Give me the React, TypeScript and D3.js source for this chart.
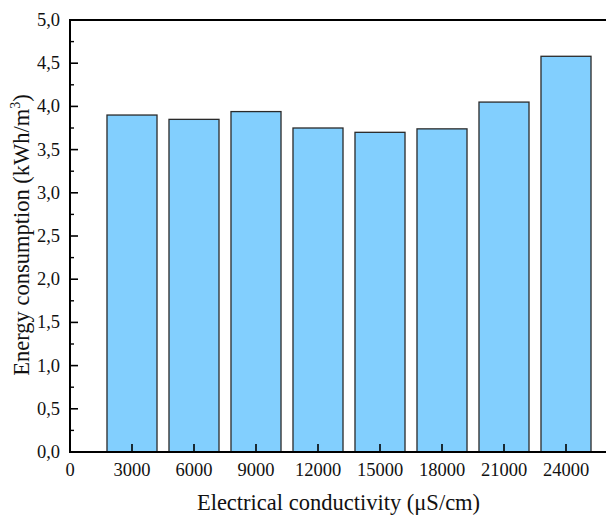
import React from "react";
import * as d3 from "d3";

const categories: number[] = [3000, 6000, 9000, 12000, 15000, 18000, 21000, 24000];
const energy: number[] = [3.9, 3.85, 3.94, 3.75, 3.7, 3.74, 4.05, 4.58];
const xTickValues: number[] = [0, 3000, 6000, 9000, 12000, 15000, 18000, 21000, 24000];
const yTickValues: number[] = [0, 0.5, 1, 1.5, 2, 2.5, 3, 3.5, 4, 4.5, 5];
const yMinorValues: number[] = [0.25, 0.75, 1.25, 1.75, 2.25, 2.75, 3.25, 3.75, 4.25, 4.75];
const barWidthUnits = 2420;

const W = 606;
const H = 515;
const left = 70;
const top = 20;
const bottom = 452;

export default function App() {
  const x = d3.scaleLinear().domain([0, 27000]).range([left, 628]);
  const y = d3.scaleLinear().domain([0, 5]).range([bottom, top]);
  const bw = x(barWidthUnits) - x(0);
  const font = "'Liberation Serif', 'Times New Roman', serif";
  const fmt = (v: number) => v.toFixed(1).replace(".", ",");

  return (
    <div style={{ position: "absolute", left: 0, top: 0 }}>
      <svg width={W} height={H} style={{ display: "block", background: "#fff" }}>
        {categories.map((c, i) => (
          <rect
            key={c}
            x={x(c) - bw / 2}
            y={y(energy[i])}
            width={bw}
            height={y(0) - y(energy[i])}
            fill="#82CFFE"
            stroke="#2a2a2a"
            strokeWidth={1.3}
          />
        ))}
        {/* y ticks */}
        {yTickValues.map((v) => (
          <g key={"y" + v}>
            <line x1={left} x2={left + 8} y1={y(v)} y2={y(v)} stroke="#000" strokeWidth={1.6} />
            <text
              x={left - 10}
              y={y(v) + 6}
              textAnchor="end"
              fontFamily={font}
              fontSize={18.5}
              fill="#111"
            >
              {fmt(v)}
            </text>
          </g>
        ))}
        {yMinorValues.map((v) => (
          <line key={"ym" + v} x1={left} x2={left + 4} y1={y(v)} y2={y(v)} stroke="#000" strokeWidth={1.4} />
        ))}
        {/* x ticks */}
        {xTickValues.map((v) => (
          <g key={"x" + v}>
            <line x1={x(v)} x2={x(v)} y1={bottom} y2={bottom - 8} stroke="#000" strokeWidth={1.6} />
            <text
              x={x(v)}
              y={476}
              textAnchor="middle"
              fontFamily={font}
              fontSize={18.5}
              fill="#111"
            >
              {v}
            </text>
          </g>
        ))}
        {/* frame */}
        <line x1={left} x2={W} y1={top} y2={top} stroke="#000" strokeWidth={2} />
        <line x1={left} x2={W} y1={bottom} y2={bottom} stroke="#000" strokeWidth={2} />
        <line x1={left} x2={left} y1={top - 1} y2={bottom + 1} stroke="#000" strokeWidth={2} />
        {/* axis titles */}
        <text
          x={(197 + 480) / 2}
          y={510}
          textAnchor="middle"
          fontFamily={font}
          fontSize={22.5}
          fill="#111"
        >
          Electrical conductivity (μS/cm)
        </text>
        <text
          transform={`translate(29, ${235}) rotate(-90)`}
          textAnchor="middle"
          fontFamily={font}
          fontSize={22.5}
          fill="#111"
        >
          Energy consumption (kWh/m
          <tspan dy={-9} fontSize={14}>3</tspan>
          <tspan dy={9}>)</tspan>
        </text>
      </svg>
    </div>
  );
}
